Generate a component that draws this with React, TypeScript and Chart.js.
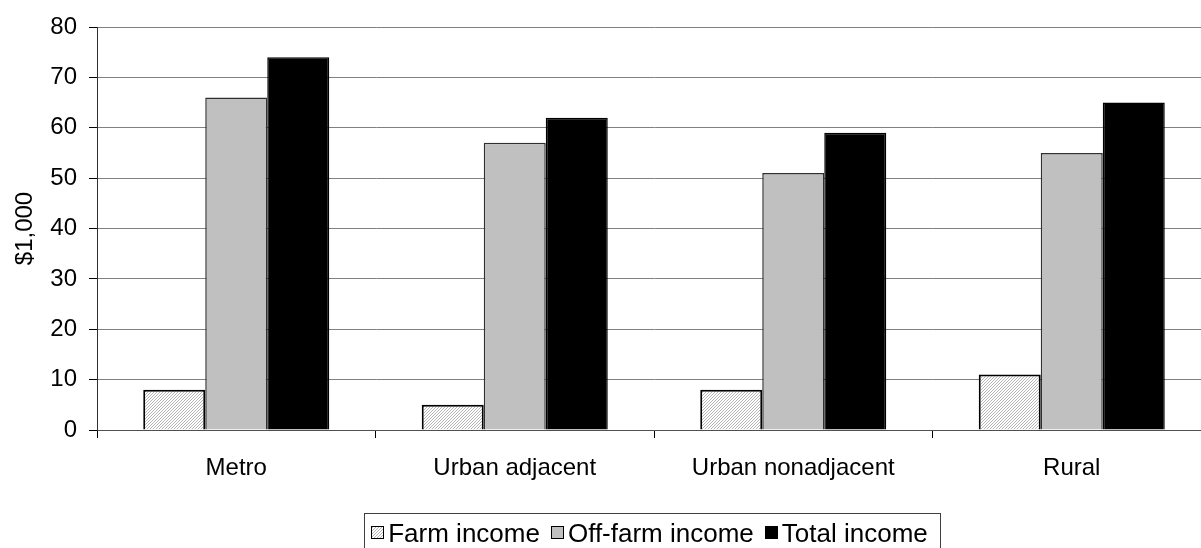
import React, { useEffect, useRef } from 'react';
import { Chart, registerables } from 'chart.js';

Chart.register(...registerables);

const categories = ['Metro', 'Urban adjacent', 'Urban nonadjacent', 'Rural'];
const seriesLabels = ['Farm income', 'Off-farm income', 'Total income'];
const farmIncome = [8, 5, 8, 11];
const offFarmIncome = [66, 57, 51, 55];
const totalIncome = [74, 62, 59, 65];
const yMin = 0;
const yMax = 80;
const yStep = 10;
const yAxisTitle = '$1,000';

const FONT = '"Liberation Sans", Arial, Helvetica, sans-serif';

function makeHatch(): CanvasPattern | string {
  const c = document.createElement('canvas');
  c.width = 3;
  c.height = 3;
  const g = c.getContext('2d');
  if (!g) return '#dddddd';
  g.fillStyle = '#ffffff';
  g.fillRect(0, 0, 3, 3);
  g.fillStyle = '#b4b4b4';
  g.fillRect(2, 0, 1, 1);
  g.fillRect(1, 1, 1, 1);
  g.fillRect(0, 2, 1, 1);
  const p = g.createPattern(c, 'repeat');
  return p || '#dddddd';
}

const boxLegend = {
  id: 'boxLegend',
  afterDraw(chart: any) {
    const ctx = chart.ctx as CanvasRenderingContext2D;
    const ca = chart.chartArea;
    ctx.save();
    ctx.font = '26px ' + FONT;
    const items = chart.data.datasets.map((ds: any) => ({
      label: ds.label as string,
      fill: ds.backgroundColor,
      w: ctx.measureText(ds.label).width,
    }));
    const padL = 7, box = 13, gapT = 4, gapI = 11, padR = 12;
    const total =
      padL + padR + items.reduce((s: number, it: any) => s + box + gapT + it.w, 0) + gapI * (items.length - 1);
    const cx = (ca.left + ca.right) / 2;
    let x = cx - total / 2 - 2;
    const top = 513;
    ctx.strokeStyle = '#404040';
    ctx.lineWidth = 1;
    ctx.strokeRect(Math.round(x) + 0.5, top + 0.5, Math.round(total), 60);
    x += padL;
    items.forEach((it: any) => {
      const bx = Math.round(x);
      ctx.fillStyle = it.fill;
      ctx.fillRect(bx, 526, box, box);
      ctx.strokeStyle = '#000';
      ctx.lineWidth = 1;
      ctx.strokeRect(bx + 0.5, 526.5, box - 1, box - 1);
      ctx.fillStyle = '#000';
      ctx.textBaseline = 'alphabetic';
      ctx.textAlign = 'left';
      ctx.fillText(it.label, x + box + gapT, 542);
      x += box + gapT + it.w + gapI;
    });
    ctx.restore();
  },
};

export default function App() {
  const ref = useRef<HTMLCanvasElement | null>(null);

  useEffect(() => {
    if (!ref.current) return;
    const hatch = makeHatch();
    const chart = new Chart(ref.current, {
      type: 'bar',
      data: {
        labels: categories,
        datasets: [
          {
            label: seriesLabels[0],
            data: farmIncome,
            backgroundColor: hatch as any,
            borderColor: '#000000',
            borderWidth: 2,
          },
          {
            label: seriesLabels[1],
            data: offFarmIncome,
            backgroundColor: '#c0c0c0',
            borderColor: '#303030',
            borderWidth: 1.5,
          },
          {
            label: seriesLabels[2],
            data: totalIncome,
            backgroundColor: '#000000',
            borderColor: '#000000',
            borderWidth: 1.5,
          },
        ],
      },
      options: {
        responsive: false,
        animation: false,
        events: [],
        datasets: {
          bar: {
            categoryPercentage: 0.668,
            barPercentage: 1,
          },
        },
        layout: { padding: { top: 27, left: 0, right: 2, bottom: 0 } },
        plugins: {
          legend: { display: false },
          tooltip: { enabled: false },
          title: { display: false },
        },
        scales: {
          x: {
            offset: true,
            grid: {
              offset: true,
              drawOnChartArea: false,
              drawTicks: true,
              tickLength: 8,
              color: '#000000',
              tickColor: '#000000',
            },
            border: { display: true, color: '#505050', width: 1 },
            ticks: {
              color: '#000000',
              font: { family: FONT, size: 24 },
              padding: 16,
              maxRotation: 0,
              autoSkip: false,
            },
            afterFit: (scale: any) => {
              scale.height = 118;
            },
          },
          y: {
            min: yMin,
            max: yMax,
            grid: {
              color: '#808080',
              tickColor: '#000000',
              tickLength: 8,
              lineWidth: 1,
            },
            border: { display: true, color: '#303030', width: 1 },
            ticks: {
              stepSize: yStep,
              color: '#000000',
              font: { family: FONT, size: 24 },
              padding: 12,
            },
            title: {
              display: true,
              text: yAxisTitle,
              color: '#000000',
              font: { family: FONT, size: 24 },
              padding: { top: 11, bottom: 0 },
            },
            afterFit: (scale: any) => {
              scale.width = 97;
            },
          },
        },
      },
      plugins: [boxLegend],
    });
    return () => chart.destroy();
  }, []);

  return (
    <div
      style={{
        position: 'fixed',
        left: 0,
        top: 0,
        width: 1201,
        height: 548,
        overflow: 'hidden',
        background: '#ffffff',
      }}
    >
      <canvas ref={ref} width={1213} height={548} style={{ width: 1213, height: 548, display: 'block' }} />
    </div>
  );
}
